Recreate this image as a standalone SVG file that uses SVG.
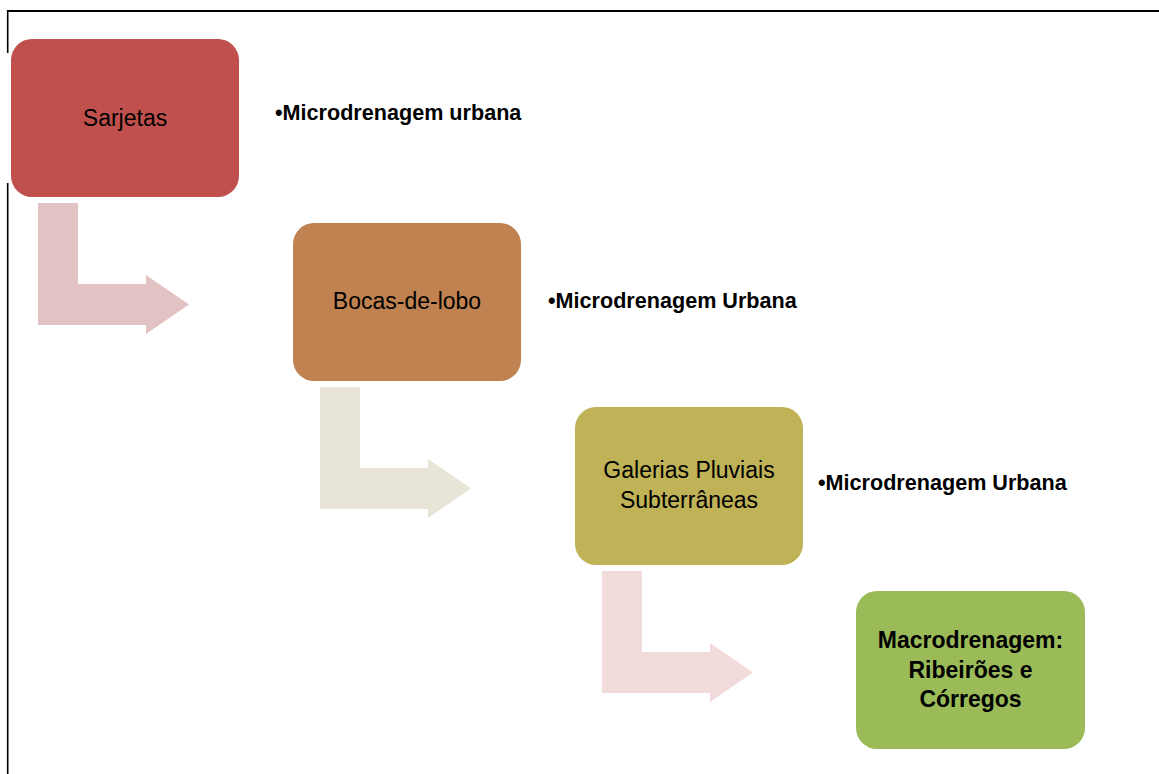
<svg xmlns="http://www.w3.org/2000/svg" width="1159" height="774" viewBox="0 0 1159 774">
<style>
.frame{stroke:#000;fill:none}
.box text{font-family:"Liberation Sans",Arial,sans-serif;font-size:23px;fill:#000;text-anchor:middle}
.box text.b{font-weight:bold}
.note{font-family:"Liberation Sans",Arial,sans-serif;font-size:21.6px;font-weight:bold;fill:#000}
</style>
<rect width="1159" height="774" fill="#fff"/>
<g id="frame">
<line class="frame" x1="7" y1="11" x2="1159" y2="11" stroke-width="2"/>
<line class="frame" x1="7.7" y1="10" x2="7.7" y2="53" stroke-width="1.6"/>
<line class="frame" x1="7.7" y1="183" x2="7.7" y2="774" stroke-width="1.6"/>
</g>
<g id="connectors">
<path d="M38 203H78V284H146V275L189 304.5L146 334V325H38Z" fill="#E3C2C3"/>
<path d="M320 387H360V468H428V459L471 488.5L428 518V509H320Z" fill="#E9E4D8"/>
<path d="M602 571H642V652H710V643L753 672.5L710 702V693H602Z" fill="#F2DBDB"/>
</g>
<g id="sarjetas" class="box">
<rect x="11" y="39" width="228" height="158" rx="21" fill="#C0504D"/>
<text x="125" y="126">Sarjetas</text>
</g>
<g id="bocas" class="box">
<rect x="293" y="223" width="228" height="158" rx="21" fill="#BF8250"/>
<text x="407" y="309">Bocas-de-lobo</text>
</g>
<g id="galerias" class="box">
<rect x="575" y="407" width="228" height="158" rx="21" fill="#BFB257"/>
<text x="689" y="478">Galerias Pluviais</text>
<text x="689" y="508">Subterrâneas</text>
</g>
<g id="macro" class="box">
<rect x="856" y="591" width="229" height="158" rx="21" fill="#9BBB59"/>
<text class="b" x="970.5" y="648">Macrodrenagem:</text>
<text class="b" x="970.5" y="678">Ribeirões e</text>
<text class="b" x="970.5" y="707">Córregos</text>
</g>
<g id="note1"><text class="note" x="275" y="120">•Microdrenagem urbana</text></g>
<g id="note2"><text class="note" x="548" y="308">•Microdrenagem Urbana</text></g>
<g id="note3"><text class="note" x="818" y="490">•Microdrenagem Urbana</text></g>
</svg>
